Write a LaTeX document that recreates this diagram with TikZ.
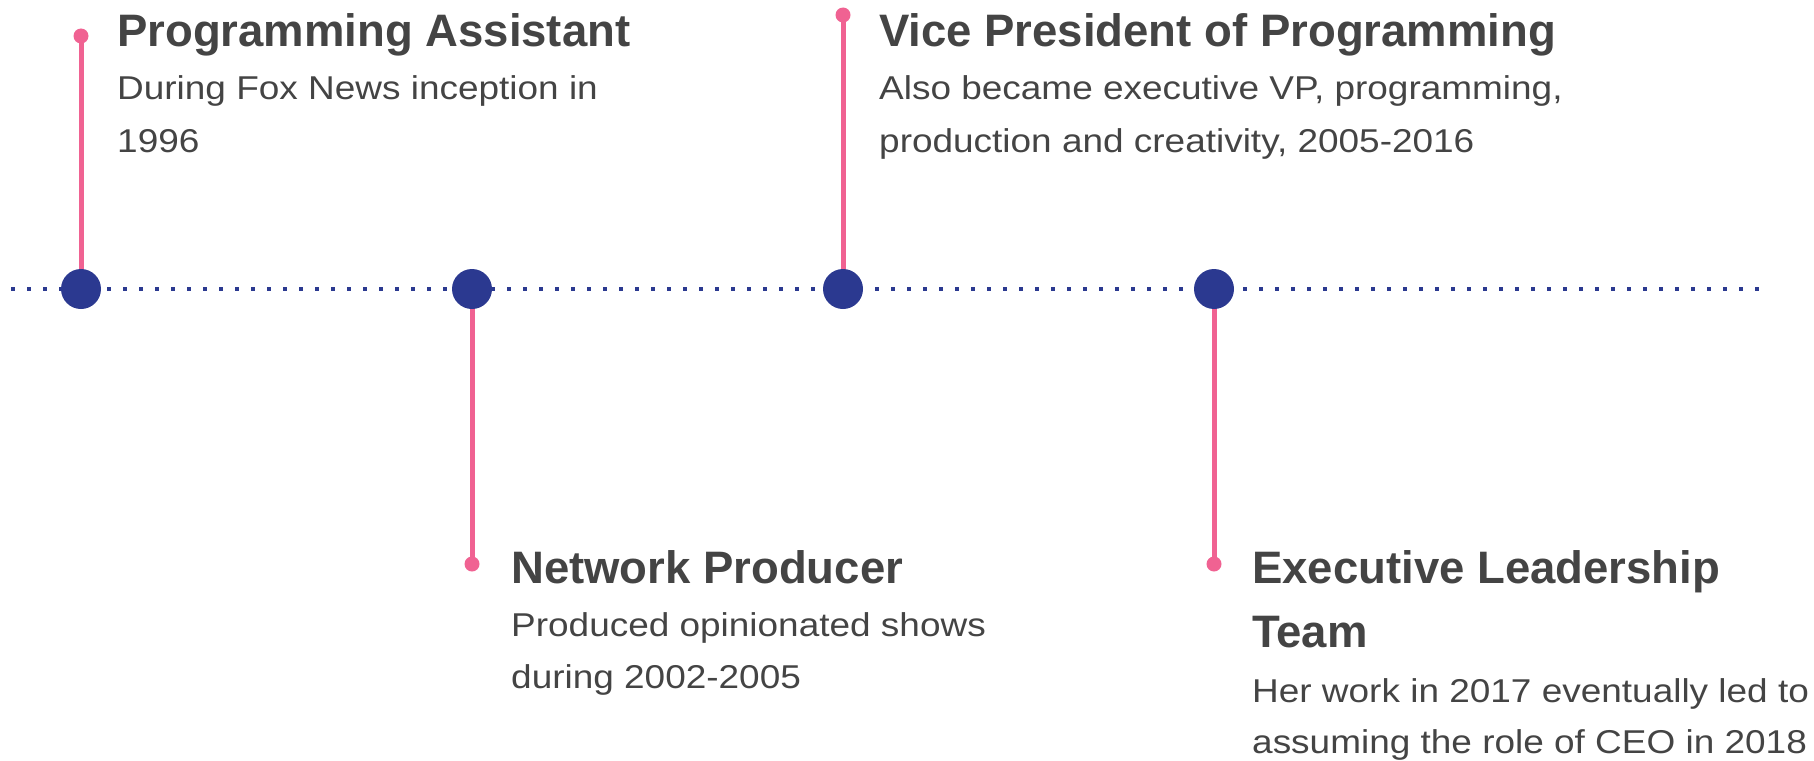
\documentclass[tikz,border=0pt]{standalone}
\usepackage{fontspec}
\setmainfont{Liberation Sans}
\newfontfamily\bodyf[FakeStretch=1.12]{Liberation Sans}
\definecolor{navy}{HTML}{2B3990}
\definecolor{pinkc}{HTML}{F06292}
\definecolor{txt}{HTML}{444444}
\tikzset{
  bigdot/.style={circle, fill=navy, inner sep=0, minimum size=40pt},
  enddot/.style={circle, fill=pinkc, inner sep=0, minimum size=15pt},
  stem/.style={draw=pinkc, line width=5pt},
  axis/.style={draw=navy, line width=4pt, dash pattern=on 4pt off 12pt},
  ttl/.style={anchor=base west, inner sep=0, text=txt, font=\fontsize{45.5}{50}\selectfont\bfseries},
  bdy/.style={anchor=base west, inner sep=0, text=txt, font=\fontsize{33}{40}\selectfont\bodyf},
}
\begin{document}
\begin{tikzpicture}[x=1pt,y=-1pt]
\useasboundingbox (0,0) rectangle (1814,760);
\coordinate (L) at (11,289);
\coordinate (R) at (1762,289);
\draw[axis] (L) -- (R);
% pink end dots
\node[enddot] (p1) at (81,36) {};
\node[enddot] (p2) at (472,564) {};
\node[enddot] (p3) at (843,15) {};
\node[enddot] (p4) at (1214,564) {};
% stems
\draw[stem] (p1.center) -- (81,289) coordinate (s1);
\draw[stem] (p2.center) -- (472,289) coordinate (s2);
\draw[stem] (p3.center) -- (843,289) coordinate (s3);
\draw[stem] (p4.center) -- (1214,289) coordinate (s4);
% timeline dots
\node[bigdot] (d1) at (s1) {};
\node[bigdot] (d2) at (s2) {};
\node[bigdot] (d3) at (s3) {};
\node[bigdot] (d4) at (s4) {};
% texts
\node[ttl] (t1) at (117,47) {Programming Assistant};
\node[bdy] (b1a) at (117,99) {During Fox News inception in};
\node[bdy] (b1b) at (117,152) {1996};
\node[ttl] (t3) at (879,47) {Vice President of Programming};
\node[bdy] (b3a) at (879,99) {Also became executive VP, programming,};
\node[bdy] (b3b) at (879,152) {production and creativity, 2005-2016};
\node[ttl] (t2) at (511,583) {Network Producer};
\node[bdy] (b2a) at (511,636) {Produced opinionated shows};
\node[bdy] (b2b) at (511,688) {during 2002-2005};
\node[ttl] (t4a) at (1252,583) {Executive Leadership};
\node[ttl] (t4b) at (1252,647) {Team};
\node[bdy] (b4a) at (1252,702) {Her work in 2017 eventually led to};
\node[bdy] (b4b) at (1252,753) {assuming the role of CEO in 2018};
\end{tikzpicture}
\end{document}
